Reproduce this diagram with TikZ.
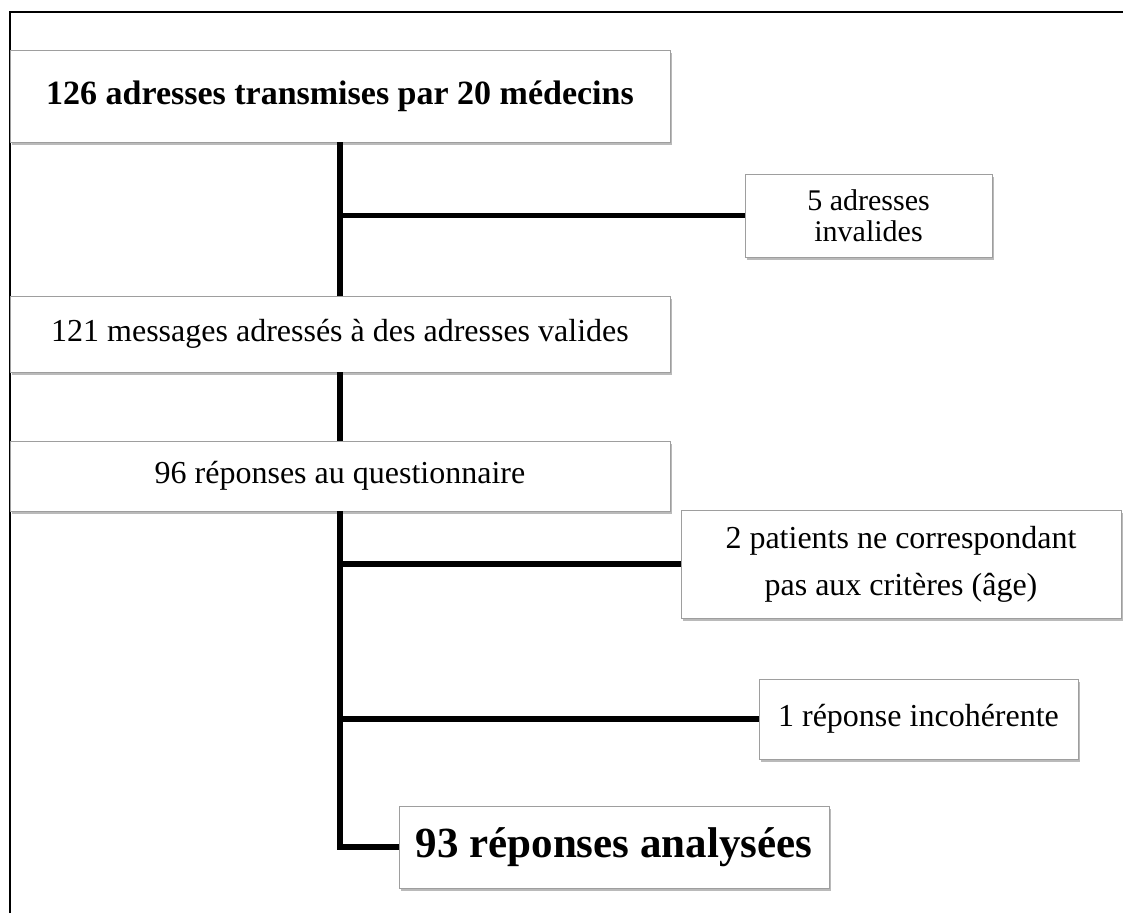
\documentclass[tikz,border=0pt]{standalone}
\usepackage{fontspec}
\setmainfont{Liberation Serif}
\usetikzlibrary{shadows}

\begin{document}
\begin{tikzpicture}[x=1pt, y=-1pt,
		boite/.style={draw=black!38, line width=0.8pt, fill=white, inner sep=0pt, align=center,
			font=\fontsize{32}{38}\selectfont,
			drop shadow={shadow xshift=1.5pt, shadow yshift=-2.5pt, opacity=0.45, fill=black!60}},
		lien/.style={line width=5.5pt}]
		%%%%% START %%%%%
		
		\useasboundingbox (0,0) rectangle (1123,913);
		\draw[line width=2pt] (10,913) -- (10,12) -- (1123,12);
		
		\node[boite, minimum width=660pt, minimum height=92pt, font=\fontsize{34}{40}\selectfont\bfseries] (adresses) at (340,96) {126 adresses transmises par 20 médecins};
		\node[boite, minimum width=247pt, minimum height=83pt, font=\fontsize{30}{31}\selectfont] (invalides) at (868.5,215.5) {5 adresses\\invalides};
		\node[boite, minimum width=660pt, minimum height=76pt] (messages) at (340,334) {121 messages adressés à des adresses valides};
		\node[boite, minimum width=660pt, minimum height=70pt] (reponses) at (340,476) {96 réponses au questionnaire};
		\node[boite, minimum width=440pt, minimum height=108pt, font=\fontsize{32}{47}\selectfont] (criteres) at (901,564) {2 patients ne correspondant\\pas aux critères (âge)};
		\node[boite, minimum width=319pt, minimum height=80pt] (incoherente) at (918.5,719) {1 réponse incohérente};
		\node[boite, minimum width=430pt, minimum height=82pt, font=\fontsize{43}{50}\selectfont\bfseries] (analysees) at (614,847) {93 réponses analysées};
		
		\coordinate (noeud1) at (340,215.5);
		\coordinate (noeud2) at (340,564);
		\coordinate (noeud3) at (340,719);
		
		\draw[lien] (adresses.south) -- (messages.north);
		\draw[lien] (noeud1) -- (invalides.west);
		\draw[lien] (messages.south) -- (reponses.north);
		\draw[lien] (reponses.south) |- (analysees.west);
		\draw[lien] (noeud2) -- (criteres.west);
		\draw[lien] (noeud3) -- (incoherente.west);
		
		%%%%% END %%%%%
	\end{tikzpicture}
\end{document}
